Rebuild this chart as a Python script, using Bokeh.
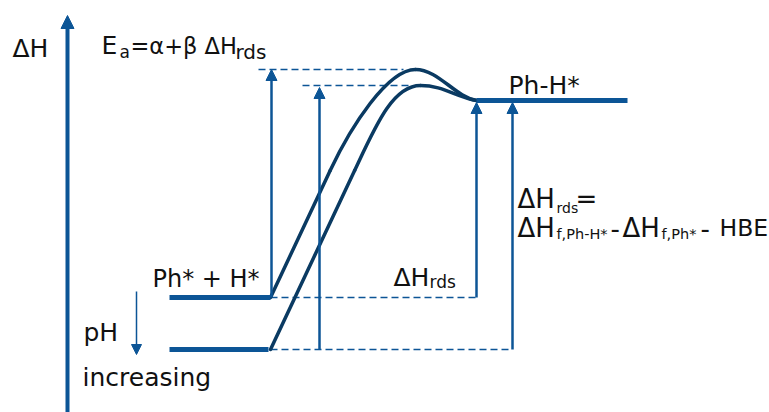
from bokeh.plotting import figure
from bokeh.models import Range1d, Arrow, NormalHead, ColumnDataSource
from bokeh.core.properties import value
from bokeh.embed import file_html
from bokeh.resources import INLINE

# ---- enthalpy profile (arbitrary units, higher = larger ΔH) ----
states = ["Ph* + H*", "TS", "Ph-H*"]
dH_low_pH = [115, 343, 312]     # upper profile (lower pH)
dH_high_pH = [63, 327, 312]     # lower profile (higher pH)

# reaction-coordinate positions
reactant_x = [169, 270]         # reactant plateau start / end
ts_x = [415, 420]               # transition-state position, low / high pH
product_x = [476, 627]          # product plateau start / end

# ---- style ----
W, H = 769, 412
BLUE = "#0c5596"
NAVY = "#0a3a62"
FONT = "DejaVu Sans"

p = figure(width=W, height=H, x_range=Range1d(0, W), y_range=Range1d(0, H),
           output_backend="svg", toolbar_location=None,
           x_axis_location=None, y_axis_location=None,
           min_border=0, background_fill_color="white")
p.grid.visible = False
p.outline_line_color = None
p.min_border_left = p.min_border_right = p.min_border_top = p.min_border_bottom = 0

dash = dict(line_color=BLUE, line_width=1.5, line_dash="7 4")

# dashed guides at the transition states
ts_guide_start = [258, 302]
p.segment(x0=ts_guide_start, y0=[dH_low_pH[1], dH_high_pH[1]],
          x1=[ts_x[0] - 12, ts_x[1] - 10], y1=[dH_low_pH[1], dH_high_pH[1]], **dash)

# dashed guides at the reactant levels, out to the ΔH_rds arrows
rds_arrow_x = [476, 512]
p.segment(x0=[reactant_x[1], reactant_x[1]], y0=[dH_low_pH[0], dH_high_pH[0]],
          x1=[rds_arrow_x[0] + 2, rds_arrow_x[1]], y1=[dH_low_pH[0], dH_high_pH[0]], **dash)

# reaction profiles: steep straight rise, rounded barrier, descent onto the product
slope = 0.47          # x advance per unit of ΔH on the rising flank
shoulder = 242        # ΔH where the flank starts to bend
for prof, xt in ((dH_low_pH, ts_x[0]), (dH_high_pH, ts_x[1])):
    r, t, pr = prof
    x0 = reactant_x[1]
    xs = x0 + slope * (shoulder - r)
    p.segment(x0=[x0], y0=[r], x1=[xs], y1=[shoulder], line_color=NAVY,
              line_width=3.5, line_cap="round")
    p.bezier(x0=[xs, xt], y0=[shoulder, t],
             x1=[xt, product_x[0]], y1=[t, pr],
             cx0=[xs + slope * 44, xt + 23], cy0=[shoulder + 44, t],
             cx1=[xt - 28, product_x[0] - 22], cy1=[t, pr + 4],
             line_color=NAVY, line_width=3.5, line_cap="round")

# energy levels
p.segment(x0=[reactant_x[0], reactant_x[0], product_x[0]],
          y0=[dH_low_pH[0], dH_high_pH[0], dH_low_pH[2]],
          x1=[reactant_x[1], reactant_x[1] - 2, product_x[1]],
          y1=[dH_low_pH[0], dH_high_pH[0], dH_low_pH[2]],
          line_color=BLUE, line_width=5, line_cap="butt")


def arrow(x0, y0, x1, y1, lw=2.5, size=11):
    head = NormalHead(size=size, fill_color=BLUE, line_color=BLUE, line_width=1)
    p.add_layout(Arrow(end=head, x_start=x0, y_start=y0, x_end=x1, y_end=y1,
                       line_color=BLUE, line_width=lw))


# ΔH axis
arrow(67, 0, 67, H - 15, lw=4, size=13)
# activation-energy arrows
ea_arrow_x = [271, 319]
arrow(ea_arrow_x[0], dH_low_pH[0], ea_arrow_x[0], dH_low_pH[1])
arrow(ea_arrow_x[1], dH_high_pH[0], ea_arrow_x[1], dH_high_pH[1] - 2)
# reaction-enthalpy arrows
arrow(rds_arrow_x[0], dH_low_pH[0], rds_arrow_x[0], dH_low_pH[2] - 2)
arrow(rds_arrow_x[1], dH_high_pH[0], rds_arrow_x[1], dH_high_pH[2] - 2)
# pH direction
arrow(136, 121, 136, 58, lw=1.5, size=10)

# ---- labels: (text, x, y, size) ----
labels = [
    ("ΔH", 12, 364, 25),
    ("E", 101, 367, 25), ("a", 119, 361, 17), ("=α+β ΔH", 130, 367, 22.5),
    ("rds", 235, 361, 20),
    ("Ph* + H*", 152, 134, 24),
    ("ΔH", 393, 135, 25), ("rds", 429, 131, 17),
    ("Ph-H*", 508, 327, 25),
    ("pH", 83, 80, 25),
    ("increasing", 82, 35, 25),
    ("ΔH", 517, 214, 26), ("rds", 556, 205, 14), ("=", 575, 214, 26),
    ("ΔH", 517, 185, 26), ("f,Ph-H*", 556, 179, 14.5), ("-", 610, 185, 26),
    ("ΔH", 622, 185, 26), ("f,Ph*", 661, 179, 14.5), ("-", 700, 185, 26),
    ("HBE", 719, 185, 23.5),
]
src = ColumnDataSource(dict(
    text=[l[0] for l in labels], x=[l[1] for l in labels], y=[l[2] for l in labels],
    size=[f"{l[3]}px" for l in labels]))
p.text(x="x", y="y", text="text", source=src, text_font=value(FONT),
       text_font_size="size", text_color="#111111",
       text_baseline="alphabetic", text_align="left")

open("out.html", "w").write(file_html(p, INLINE))
